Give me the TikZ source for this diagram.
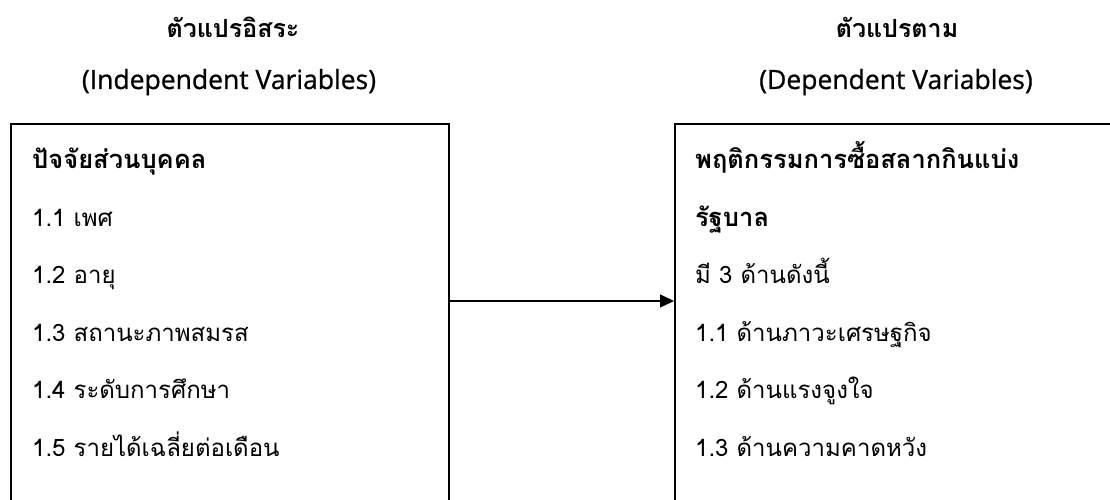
\documentclass[tikz,border=0pt]{standalone}
\usepackage{fontspec}
\setmainfont[Script=Thai]{Loma}
\newfontfamily\latinfont[FakeBold=0.8]{Open Sans}
\usetikzlibrary{arrows.meta}
\tikzset{
  varbox/.style={draw=black, line width=1.6pt, rectangle, anchor=north west, inner sep=0pt},
  title/.style={font=\fontsize{25}{30}\selectfont\bfseries, anchor=base},
  ltitle/.style={font=\latinfont\fontsize{26.5}{30}\selectfont, anchor=base},
  head/.style={font=\fontsize{25.5}{30}\selectfont\bfseries, anchor=base west, inner sep=0pt},
  item/.style={font=\fontsize{24}{28}\selectfont, anchor=base west, inner sep=0pt},
  link/.style={line width=1.3pt, -{Triangle[length=14pt,width=13pt]}}
}
\begin{document}
\begin{tikzpicture}[x=1pt,y=-1pt]
\useasboundingbox (0,0) rectangle (1110,500);
\node[varbox, minimum width=438pt, minimum height=420pt] (L) at (10,123) {};
\node[varbox, minimum width=460pt, minimum height=420pt] (R) at (674,123) {};
\node[title] (t1) at (233,38) {ตัวแปรอิสระ};
\node[ltitle] (t1e) at (229,89) {(Independent Variables)};
\node[title] (t2) at (897,38) {ตัวแปรตาม};
\node[ltitle] (t2e) at (896,89) {(Dependent Variables)};
\node[head] (l0) at (32,168) {ปัจจัยส่วนบุคคล};
\node[item] (l1) at (32,226) {1.1 เพศ};
\node[item] (l2) at (32,283) {1.2 อายุ};
\node[item] (l3) at (32,341) {1.3 สถานะภาพสมรส};
\node[item] (l4) at (32,398) {1.4 ระดับการศึกษา};
\node[item] (l5) at (32,456) {1.5 รายได้เฉลี่ยต่อเดือน};
\node[head] (r0) at (695,168) {พฤติกรรมการซื้อสลากกินแบ่ง};
\node[head] (r1) at (695,226) {รัฐบาล};
\node[item] (r2) at (695,283) {มี 3 ด้านดังนี้};
\node[item] (r3) at (695,341) {1.1 ด้านภาวะเศรษฐกิจ};
\node[item] (r4) at (695,398) {1.2 ด้านแรงจูงใจ};
\node[item] (r5) at (695,456) {1.3 ด้านความคาดหวัง};
\coordinate (a) at (448,301);
\coordinate (b) at (674,301);
\draw[link] (a) -- (b);
\end{tikzpicture}
\end{document}
